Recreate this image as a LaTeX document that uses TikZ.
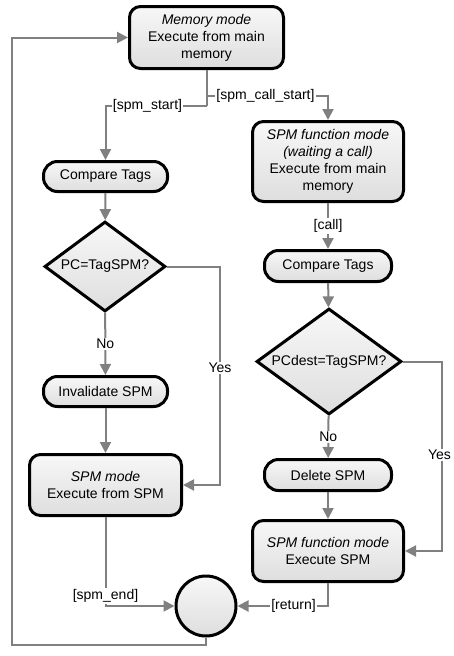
\documentclass[tikz,border=0pt]{standalone}
\usepackage{fontspec}
\setmainfont{Liberation Sans}
\usetikzlibrary{shapes.geometric,arrows.meta}
\definecolor{linegray}{HTML}{808080}
\begin{document}
\begin{tikzpicture}[x=1pt,y=-1pt,
  font=\fontsize{14}{17}\selectfont,
  shade/.style={top color=black!3,bottom color=black!13},
  box/.style={draw=black,line width=3pt,rounded corners=11pt,shade,align=center,inner sep=2pt},
  pill/.style={box,rounded corners=14pt},
  dec/.style={draw=black,line width=3pt,diamond,shade,inner sep=0pt},
  circ/.style={draw=black,line width=3pt,circle,shade,minimum size=60pt,inner sep=0pt},
  conn/.style={draw=linegray,line width=2pt,-{Triangle[length=11pt,width=11pt]}},
  plain/.style={draw=linegray,line width=2pt},
  lbl/.style={fill=white,inner sep=1pt}
]
\useasboundingbox (0,0) rectangle (453,656);

% nodes
\node[box,minimum width=154pt,minimum height=62pt] (mem) at (206.5,37.5)
  {\itshape Memory mode\\Execute from main\\memory};
\node[box,minimum width=151pt,minimum height=80pt] (wait) at (328,161.5)
  {\itshape SPM function mode\\\itshape (waiting a call)\\Execute from main\\memory};
\node[pill,minimum width=124pt,minimum height=30pt] (cmpL) at (105.5,176.5) {Compare Tags};
\node[dec,minimum width=121pt,minimum height=90pt,aspect=1.33] (decL) at (105,266.5) {PC=TagSPM?};
\node[pill,minimum width=124pt,minimum height=30pt] (inval) at (105.5,391.5) {Invalidate SPM};
\node[box,minimum width=152pt,minimum height=61pt] (spm) at (105.5,485)
  {\itshape SPM mode\\Execute from SPM};
\node[pill,minimum width=127pt,minimum height=31pt] (cmpR) at (328,266) {Compare Tags};
\node[dec,minimum width=145pt,minimum height=106pt,aspect=1.36] (decR) at (329,361.5) {PCdest=TagSPM?};
\node[pill,minimum width=127pt,minimum height=31pt] (del) at (328,475) {Delete SPM};
\node[box,minimum width=151pt,minimum height=61pt] (exec) at (328,551)
  {\itshape SPM function mode\\Execute SPM};
\node[circ] (join) at (206,606) {};

% helper coordinates
\coordinate (bL) at (206.5,106);
\coordinate (bR) at (206.5,96);
\coordinate (yesL) at (220,266.5);
\coordinate (yesR) at (442,361.5);
\coordinate (endc) at (105.5,606);
\coordinate (retc) at (328,606);
\coordinate (loopA) at (206,645);
\coordinate (loopB) at (12,645);
\coordinate (loopC) at (12,37.5);

% connectors
\draw[plain] (mem.south) -- (bL);
\draw[conn] (bL) -| (cmpL.north);
\draw[conn] (bR) -| (wait.north);
\node[lbl] at (147.5,106) {[spm\_start]};
\node[lbl] at (265.5,96) {[spm\_call\_start]};

\draw[conn] (cmpL) -- (decL);
\draw[conn] (decL) -- node[lbl] {No} (inval);
\draw[conn] (decL.east) -- (yesL) |- (spm.east);
\node[lbl] at (220,368) {Yes};
\draw[conn] (inval) -- (spm);
\draw[conn] (spm.south) -- (endc) -- (join.west);
\node[lbl] at (105.5,596) {[spm\_end]};

\draw[conn] (wait) -- node[lbl] {[call]} (cmpR);
\draw[conn] (cmpR) -- (decR);
\draw[conn] (decR) -- node[lbl] {No} (del);
\draw[conn] (decR.east) -- (yesR) |- (exec.east);
\node[lbl] at (439.5,455) {Yes};
\draw[conn] (del) -- (exec);
\draw[conn] (exec.south) -- (retc) -- (join.east);
\node[lbl] at (293.5,606) {[return]};

\draw[conn] (join.south) -- (loopA) -- (loopB) -- (loopC) -- (mem.west);
\end{tikzpicture}
\end{document}
